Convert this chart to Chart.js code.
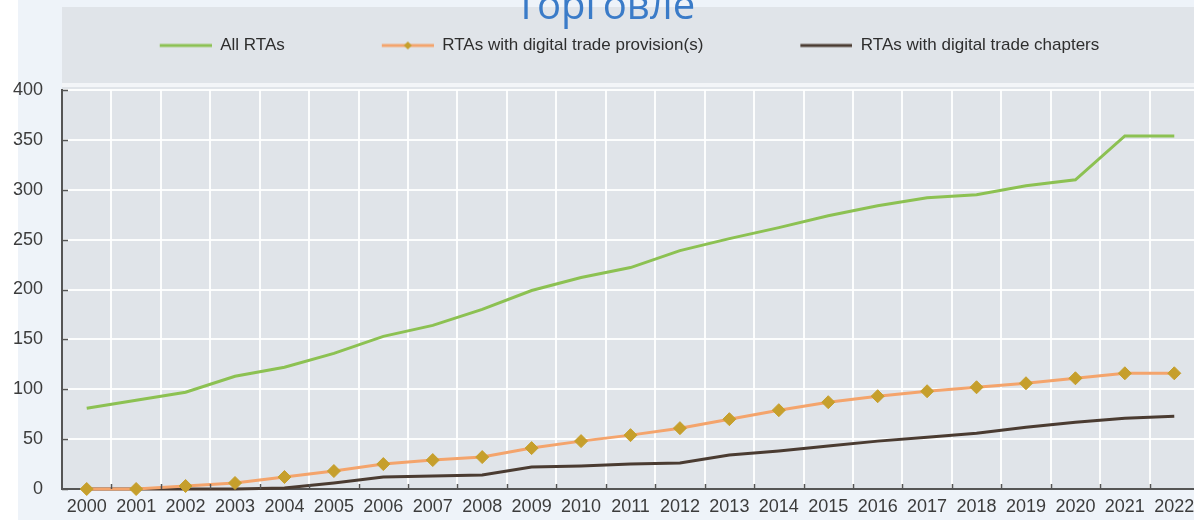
<!DOCTYPE html>
<html>
<head>
<meta charset="utf-8">
<script src="https://cdn.jsdelivr.net/npm/chart.js@4.4.1/dist/chart.umd.min.js"></script>
<style>
html,body{margin:0;padding:0;background:#fff;overflow:hidden;width:1194px;height:520px;}
#wrap{position:relative;width:1194px;height:520px;overflow:hidden;}
#c{position:absolute;left:0;top:0;}
#title{position:absolute;left:455px;width:300px;top:-16px;text-align:center;font-family:"Open Sans",sans-serif;font-size:40px;line-height:40px;color:#3a7bc8;z-index:2;white-space:nowrap;}
</style>
</head>
<body>
<div id="wrap">
<canvas id="c" width="1230" height="520" style="width:1230px;height:520px;"></canvas>
<div id="title">Торговле</div>
</div>
<script>
const years = ['2000','2001','2002','2003','2004','2005','2006','2007','2008','2009','2010','2011','2012','2013','2014','2015','2016','2017','2018','2019','2020','2021','2022'];
const allRTAs = [81, 89, 97, 113, 122, 136, 153, 164, 180, 199, 212, 222, 239, 251, 262, 274, 284, 292, 295, 304, 310, 354, 354];
const digitalProvisions = [0, 0, 3, 6, 12, 18, 25, 29, 32, 41, 48, 54, 61, 70, 79, 87, 93, 98, 102, 106, 111, 116, 116];
const digitalChapters = [0, 0, 0, 0, 1, 6, 12, 13, 14, 22, 23, 25, 26, 34, 38, 43, 48, 52, 56, 62, 67, 71, 73];
const seriesNames = ['All RTAs', 'RTAs with digital trade provision(s)', 'RTAs with digital trade chapters'];
const yTicks = [0, 50, 100, 150, 200, 250, 300, 350, 400];

const FONT = '"Liberation Sans", Arial, sans-serif';
const GREEN = '#8cc152', ORANGE = '#f4a46c', GOLD = '#c69f2c', BROWN = '#4a3b31';

function swatch(color, marker) {
  const c = document.createElement('canvas');
  c.width = 112; c.height = 16;
  const g = c.getContext('2d');
  g.strokeStyle = color; g.lineWidth = 3;
  g.beginPath(); g.moveTo(60, 8); g.lineTo(112, 8); g.stroke();
  if (marker) {
    g.fillStyle = marker;
    g.beginPath(); g.moveTo(86, 4); g.lineTo(90, 8); g.lineTo(86, 12); g.lineTo(82, 8); g.closePath(); g.fill();
  }
  return c;
}
const swatches = [swatch(GREEN), swatch(ORANGE, GOLD), swatch(BROWN)];

const bgPlugin = {
  id: 'bg',
  beforeDraw(chart) {
    const {ctx, chartArea: a} = chart;
    ctx.save();
    ctx.fillStyle = '#ffffff'; ctx.fillRect(0, 0, chart.width, chart.height);
    ctx.fillStyle = '#eef3f9'; ctx.fillRect(18, 0, chart.width, chart.height);
    ctx.fillStyle = '#e0e4e9'; ctx.fillRect(a.left, 7, chart.width, a.bottom - 7);
    ctx.fillStyle = '#f3f5f8'; ctx.fillRect(a.left, 83, chart.width, 4);
    ctx.restore();
  }
};
const legendHeight = {
  id: 'legendHeight',
  beforeInit(chart) {
    const f = chart.legend.fit;
    chart.legend.fit = function () { f.call(this); this.height = 90; };
  }
};
const tickMarks = {
  id: 'tickMarks',
  afterDraw(chart) {
    const {ctx, chartArea: a, scales: {x, y}} = chart;
    ctx.save();
    ctx.strokeStyle = '#555'; ctx.lineWidth = 1.5;
    ctx.beginPath();
    y.ticks.forEach(t => { const py = Math.round(y.getPixelForValue(t.value)) + 0.5; ctx.moveTo(a.left, py); ctx.lineTo(a.left + 6, py); });
    const half = (x.getPixelForValue(1) - x.getPixelForValue(0)) / 2;
    for (let i = 0; i < years.length; i++) {
      const px = Math.round(x.getPixelForValue(i) + half) + 0.5;
      ctx.moveTo(px, a.bottom); ctx.lineTo(px, a.bottom - 5);
    }
    ctx.stroke();
    ctx.restore();
  }
};

new Chart(document.getElementById('c'), {
  type: 'line',
  data: {
    labels: years,
    datasets: [
      {label: seriesNames[0], data: allRTAs, borderColor: GREEN, borderWidth: 3, pointRadius: 0, tension: 0, clip: false},
      {label: seriesNames[1], data: digitalProvisions, borderColor: ORANGE, borderWidth: 3, tension: 0, clip: false,
        pointStyle: 'rectRot', pointRadius: 6.5, pointBackgroundColor: GOLD, pointBorderColor: GOLD, pointBorderWidth: 1},
      {label: seriesNames[2], data: digitalChapters, borderColor: BROWN, borderWidth: 3, pointRadius: 0, tension: 0, clip: false}
    ]
  },
  options: {
    responsive: false,
    animation: false,
    events: [],
    layout: {padding: {top: 0, left: 0, right: 31, bottom: 0}},
    plugins: {
      tooltip: {enabled: false},
      legend: {
        position: 'top',
        labels: {
          usePointStyle: true,
          pointStyleWidth: 112,
          padding: 37,
          color: '#2e2e2e',
          font: {family: FONT, size: 17},
          generateLabels(chart) {
            return chart.data.datasets.map((d, i) => ({
              text: d.label, pointStyle: swatches[i], fillStyle: 'rgba(0,0,0,0)',
              strokeStyle: 'rgba(0,0,0,0)', lineWidth: 0, hidden: false, datasetIndex: i, fontColor: '#2e2e2e'
            }));
          }
        }
      }
    },
    scales: {
      x: {
        offset: true,
        grid: {offset: true, color: 'rgba(255,255,255,0.9)', lineWidth: 2, drawTicks: false},
        border: {color: '#555', width: 2},
        ticks: {autoSkip: false, maxRotation: 0, minRotation: 0, padding: 7, color: '#3c3c3c', font: {family: FONT, size: 18}},
        afterFit(s) { s.height = 31; }
      },
      y: {
        min: 0, max: 400,
        afterBuildTicks(s) { s.ticks = yTicks.map(v => ({value: v})); },
        grid: {color: 'rgba(255,255,255,0.9)', lineWidth: 2, drawTicks: false},
        border: {color: '#555', width: 2},
        ticks: {padding: 19, color: '#3c3c3c', font: {family: FONT, size: 18}},
        afterFit(s) { s.width = 62; }
      }
    }
  },
  plugins: [bgPlugin, legendHeight, tickMarks]
});
</script>
</body>
</html>
